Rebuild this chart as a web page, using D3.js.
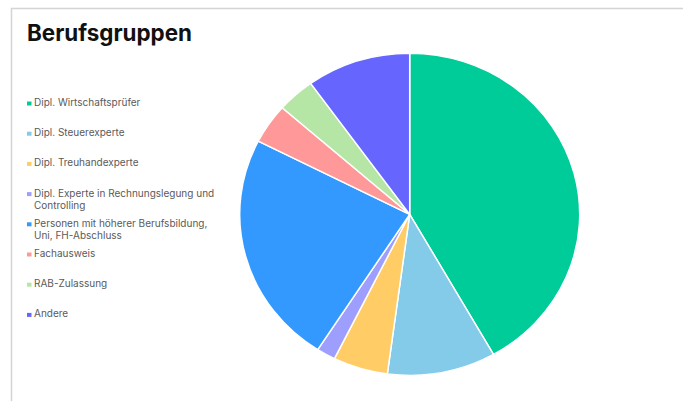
<!DOCTYPE html>
<html>
<head>
<meta charset="utf-8">
<script src="https://cdn.jsdelivr.net/npm/d3@7"></script>
<style>
  html, body { margin: 0; padding: 0; background: #fff; }
  svg { display: block; }
</style>
</head>
<body>
<div id="chart"></div>
<script>
// Professional groups and their shares (percent)
const categories = [
  "Dipl. Wirtschaftsprüfer",
  "Dipl. Steuerexperte",
  "Dipl. Treuhandexperte",
  "Dipl. Experte in Rechnungslegung und Controlling",
  "Personen mit höherer Berufsbildung, Uni, FH-Abschluss",
  "Fachausweis",
  "RAB-Zulassung",
  "Andere"
];
const shares = [41.8, 10.3, 5.2, 1.8, 23.4, 4.0, 3.6, 9.9];
const colors = ["#00CC99", "#84CAE9", "#FFCC66", "#9E9EFF", "#3399FF", "#FF9999", "#B5E6A5", "#6666FF"];
const title = "Berufsgruppen";

const W = 683, H = 401;
const svg = d3.select("#chart").append("svg")
  .attr("width", W).attr("height", H);

// card frame: top and left edges
svg.append("path")
  .attr("d", `M11.5,${H} V8.5 H${W}`)
  .attr("fill", "none")
  .attr("stroke", "#d4d4d4")
  .attr("stroke-width", 1.5);

svg.append("text")
  .attr("x", 27).attr("y", 41)
  .attr("font-family", "Inter, 'DejaVu Sans', sans-serif")
  .attr("font-weight", 700)
  .attr("font-size", 22.4)
  .attr("fill", "#111")
  .text(title);

// legend
const legendX = 27, legendY0 = 106, legendStep = 30.2, wrapWidth = 184, lineGap = 12.5;
const legend = svg.append("g").attr("font-family", "Inter, 'DejaVu Sans', sans-serif")
  .attr("font-size", 10).attr("fill", "#5a5a5a");

categories.forEach((c, i) => {
  const y = legendY0 + i * legendStep;
  legend.append("rect")
    .attr("x", legendX).attr("y", y - 4.5)
    .attr("width", 4.5).attr("height", 4)
    .attr("fill", colors[i]);
  const t = legend.append("text").attr("x", legendX + 7).attr("y", y);
  // word wrap
  const words = c.split(" ");
  let line = [], lineNo = 0;
  let ts = t.append("tspan").attr("x", legendX + 7).attr("y", y);
  words.forEach(w => {
    line.push(w);
    ts.text(line.join(" "));
    if (ts.node().getComputedTextLength() > wrapWidth && line.length > 1) {
      line.pop();
      ts.text(line.join(" "));
      line = [w];
      lineNo++;
      ts = t.append("tspan").attr("x", legendX + 7).attr("y", y + lineNo * lineGap).text(w);
    }
  });
});

// pie
const cx = 409.7, cy = 214.3, ry = 161, rx = 170;
const pie = d3.pie().sort(null).value(d => d)(shares);
const arc = d3.arc().innerRadius(0).outerRadius(ry);
const g = svg.append("g")
  .attr("transform", `translate(${cx},${cy}) scale(${rx / ry},1)`);
g.selectAll("path")
  .data(pie)
  .join("path")
  .attr("d", arc)
  .attr("fill", (d, i) => colors[i])
  .attr("stroke", "#fff")
  .attr("stroke-width", 1.4)
  .attr("stroke-linejoin", "round");
</script>
</body>
</html>
